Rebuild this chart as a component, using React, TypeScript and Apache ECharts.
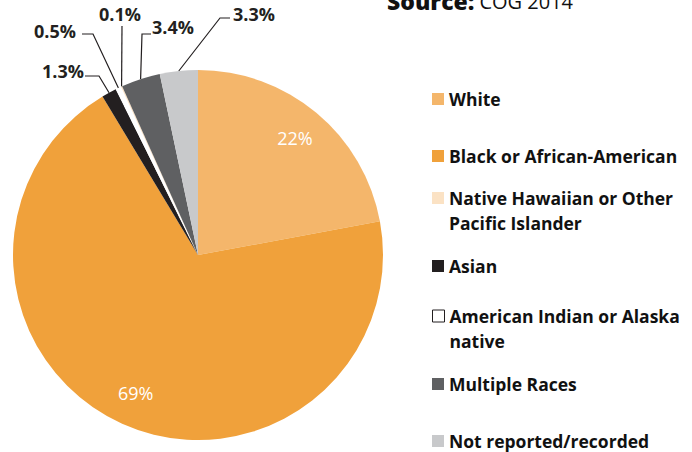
import React, { useEffect, useRef } from "react";
import * as echarts from "echarts";

// ---- data ----
const categories = [
  "White",
  "Black or African-American",
  "Asian",
  "American Indian or Alaska native",
  "Native Hawaiian or Other Pacific Islander",
  "Multiple Races",
  "Not reported/recorded",
];
const values = [22, 69, 1.3, 0.5, 0.1, 3.4, 3.3];
const valueLabels = ["22%", "69%", "1.3%", "0.5%", "0.1%", "3.4%", "3.3%"];
const legendOrder = [
  "White",
  "Black or African-American",
  "Native Hawaiian or Other Pacific Islander",
  "Asian",
  "American Indian or Alaska native",
  "Multiple Races",
  "Not reported/recorded",
];
const legendText: Record<string, string> = {
  "Native Hawaiian or Other Pacific Islander": "Native Hawaiian or Other\nPacific Islander",
  "American Indian or Alaska native": "American Indian or Alaska\nnative",
};
const sourceLabel = "Source:";
const sourceText = "COG 2014";

// ---- styles / layout ----
const colors = ["#F4B66B", "#F0A13B", "#231F20", "#FFFFFF", "#FBE2C4", "#5F6062", "#C8C9CB"];
const CX = 198;
const CY = 255;
const R = 185;
const INNER_RATIO = 0.82;
// icon-center y for each legend entry (in legendOrder)
const legendY = [99, 156, 198, 266, 316, 384, 441];
const LEGEND_LEFT = 432;
const LINE_H = 25;
// outside label layout: [labelLeft, labelMidY, elbowX, elbowY, endX, endY]
const outsideLayout: Record<number, number[]> = {
  2: [42, 71, 99, 76, 85, 76],
  3: [34, 31, 93, 34, 82, 34],
  4: [99, 14, 122, 26, 122, 26],
  5: [152, 27, 142, 34, 151, 34],
  6: [233, 14, 220, 18, 230, 18],
};
const FONT = "'Open Sans', 'Noto Sans', sans-serif";

export default function App() {
  const ref = useRef<HTMLDivElement>(null);
  useEffect(() => {
    if (!ref.current) return;
    const chart = echarts.init(ref.current, null, { renderer: "svg" });
    const total = values.reduce((a, b) => a + b, 0);
    const midAngles: number[] = [];
    let cum = 0;
    values.forEach((v) => {
      midAngles.push(((cum + v / 2) / total) * Math.PI * 2);
      cum += v;
    });

    const data = categories.map((name, i) => {
      const inside = i < 2;
      return {
        name,
        value: values[i],
        itemStyle: { color: colors[i] },
        label: inside
          ? {
              show: true,
              position: "inside",
              color: "#FFFFFF",
              fontSize: 18,
              fontFamily: FONT,
              fontWeight: "normal",
            }
          : {
              show: true,
              position: "outside",
              color: "#231F20",
              fontSize: 18,
              fontFamily: FONT,
              fontWeight: "bold",
            },
        labelLine: { show: !inside, lineStyle: { color: "#231F20", width: 1.2 } },
      };
    });

    const legends = legendOrder.map((name, k) => {
      const lines = (legendText[name] || name).split("\n").length;
      const item: any = { name };
      if (name === "American Indian or Alaska native") {
        item.itemStyle = { color: "#FFFFFF", borderColor: "#231F20", borderWidth: 1 };
      }
      const blockLines = lines === 2 ? 3 : 1;
      return {
        orient: "vertical",
        left: LEGEND_LEFT,
        top: legendY[k] - (blockLines * LINE_H) / 2,
        padding: 0,
        itemWidth: 12,
        itemHeight: 12,
        icon: "rect",
        selectedMode: false,
        data: [item],
        formatter: (n: string) => (legendText[n] ? "\n" + legendText[n] : n),
        textStyle: {
          fontFamily: FONT,
          fontWeight: "bold",
          fontSize: 17.5,
          color: "#111111",
          lineHeight: LINE_H,
        },
      };
    });

    chart.setOption({
      animation: false,
      backgroundColor: "#FFFFFF",
      title: {
        text: "{b|" + sourceLabel + "} {n|" + sourceText + "}",
        left: 387,
        top: -11,
        padding: 0,
        textStyle: {
          rich: {
            b: { fontFamily: FONT, fontWeight: 800, fontSize: 23, color: "#111111", lineHeight: 24 },
            n: { fontFamily: FONT, fontWeight: "normal", fontSize: 20, color: "#111111", lineHeight: 24 },
          },
        },
      },
      legend: legends,
      series: [
        {
          type: "pie",
          center: [CX, CY],
          radius: R,
          startAngle: 90,
          clockwise: true,
          avoidLabelOverlap: false,
          data,
          label: { formatter: (p: any) => valueLabels[p.dataIndex] },
          labelLine: { length: 10, length2: 10 },
          labelLayout: (params: any) => {
            const i = params.dataIndex;
            const a = midAngles[i];
            if (i < 2) {
              const r = R * INNER_RATIO;
              return { x: CX + r * Math.sin(a), y: CY - r * Math.cos(a), align: "center", verticalAlign: "middle" };
            }
            const L = outsideLayout[i];
            const p0 = [CX + R * Math.sin(a), CY - R * Math.cos(a)];
            return {
              x: L[0],
              y: L[1],
              align: "left",
              verticalAlign: "middle",
              labelLinePoints: [p0, [L[2], L[3]], [L[4], L[5]]],
            };
          },
        },
      ],
    });
    return () => chart.dispose();
  }, []);
  return (
    <div
      ref={ref}
      style={{ position: "absolute", left: 0, top: 0, width: 692, height: 452, background: "#fff" }}
    />
  );
}
